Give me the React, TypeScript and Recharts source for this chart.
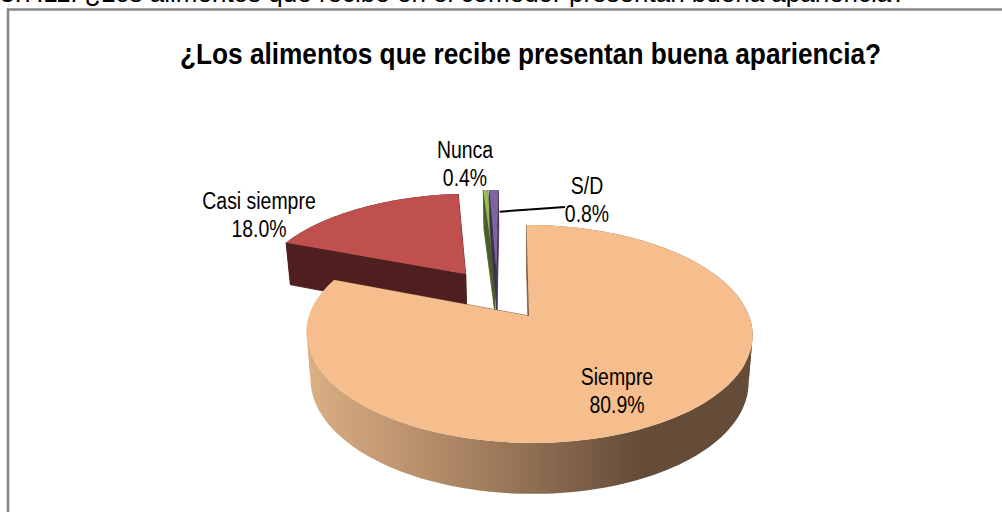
import { Pie, PieChart } from "recharts";

const TITLE = "¿Los alimentos que recibe presentan buena apariencia?";
const CAPTION = "3.7.11. ¿Los alimentos que recibe en el comedor presentan buena apariencia?";

// drawn back to front, so the big slice comes last
const categories = ["Casi siempre", "Nunca", "S/D", "Siempre"];
const percents = [18.0, 0.4, 0.8, 80.9];

const faceColors = ["#C0504D", "#9BBB59", "#8064A2", "#F6BE8C"];
const sideColors = ["#4F1F1F", "#4A5E2A", "#3F3151", "url(#siempreSide)"];
const cutColors = ["#4F1F1F", "#4A5E2A", "#3F3151", "#7A5C42"];

const data = categories.map((name, i) => ({ name, value: percents[i] }));

// label centre relative to the pie centre
const labelOffsets: Record<string, [number, number]> = {
  "Casi siempre": [-270, -102],
  Nunca: [-64, -153],
  "S/D": [58, -117],
  Siempre: [88, 74],
};

const SQUEEZE = 0.81;
const FLATTEN = 0.482;
const PERSPECTIVE = 0.165;
const SHEAR = 3;
const EXPLODE = 0.26;
const CENTER_U = -0.147;
const CENTER_V = 0.215;

// unit-circle plane -> screen, tilted away from the viewer
function project(cx: number, cy: number, r: number, u: number, v: number, drop = 0) {
  const w = 1 + PERSPECTIVE * v;
  const shrink = drop ? 0.982 : 1;
  return {
    x: cx + (shrink * r * u - SHEAR * v) / w,
    y: cy - (r * FLATTEN * v) / w + (drop ? 46 - 5 * v : 0),
  };
}

const rad = (deg: number) => (deg * Math.PI) / 180;
const pts = (list: { x: number; y: number }[]) => list.map((p) => `${p.x},${p.y}`).join(" ");

function SliceShape(props: any) {
  const { cx, cy, outerRadius: r, startAngle, endAngle, midAngle, index } = props;
  const apexU = CENTER_U + EXPLODE * Math.cos(rad(midAngle));
  const apexV = CENTER_V + EXPLODE * Math.sin(rad(midAngle));
  const steps = Math.max(4, Math.ceil(Math.abs(endAngle - startAngle) / 1.5));
  const arc: [number, number][] = [];
  for (let s = 0; s <= steps; s++) {
    const a = rad(startAngle + ((endAngle - startAngle) * s) / steps);
    arc.push([apexU + Math.cos(a), apexV + Math.sin(a)]);
  }
  const topArc = arc.map(([u, v]) => project(cx, cy, r, u, v));
  const bottomArc = arc.map(([u, v]) => project(cx, cy, r, u, v, 1));
  const apexTop = project(cx, cy, r, apexU, apexV);
  const apexBottom = project(cx, cy, r, apexU, apexV, 1);
  const last = arc.length - 1;
  const cut = cutColors[index];

  // split the rim where it turns round at the left and right ends,
  // one polygon across both would cancel out where it overlaps itself
  const xs = topArc.map((p) => p.x);
  const turns = [xs.indexOf(Math.max(...xs)), xs.indexOf(Math.min(...xs))].sort((a, b) => a - b);
  const breaks = [0, ...turns, last];
  const bands = breaks.slice(1).map((end, i) => {
    const start = breaks[i];
    return [...topArc.slice(start, end + 1), ...bottomArc.slice(start, end + 1).reverse()];
  });

  return (
    <g>
      <defs>
        <linearGradient id="siempreSide" gradientUnits="userSpaceOnUse" x1="311" y1="0" x2="640" y2="0">
          <stop offset="0" stopColor="#DBAE83" />
          <stop offset="0.5" stopColor="#A5805F" />
          <stop offset="1" stopColor="#654C39" />
        </linearGradient>
      </defs>
      <polygon points={pts([apexTop, topArc[0], bottomArc[0], apexBottom])} fill={cut} stroke={cut} strokeWidth={0.8} />
      <polygon points={pts([apexTop, topArc[last], bottomArc[last], apexBottom])} fill={cut} stroke={cut} strokeWidth={0.8} />
      {bands.map((band, i) => (
        <polygon key={i} points={pts(band)} fill={sideColors[index]} />
      ))}
      <polygon points={pts([apexTop, ...topArc])} fill={faceColors[index]} />
    </g>
  );
}

function SliceLabel(props: any) {
  const { cx, cy, name, value, outerRadius: r, midAngle } = props;
  const [dx, dy] = labelOffsets[name];
  const x = cx + dx;
  const y = cy + dy;
  let leader = null;
  if (name === "S/D") {
    const u = CENTER_U + EXPLODE * Math.cos(rad(midAngle)) + 0.01;
    const v = CENTER_V + EXPLODE * Math.sin(rad(midAngle)) + 0.7;
    const from = project(cx, cy, r, u, v);
    leader = <line x1={from.x} y1={from.y} x2={x - 22} y2={y + 8} stroke="#000" strokeWidth={2} />;
  }
  const font = { fontFamily: "Liberation Sans", fontSize: 24, fill: "#000", textAnchor: "middle" as const };
  return (
    <g>
      {leader}
      <text transform={`translate(${x},${y - 5}) scale(${SQUEEZE},1)`} {...font}>
        {name}
      </text>
      <text transform={`translate(${x},${y + 23}) scale(${SQUEEZE},1)`} {...font}>
        {value.toFixed(1)}%
      </text>
    </g>
  );
}

export default function App() {
  return (
    <div style={{ position: "absolute", left: 0, top: 0, width: 1002, height: 512, overflow: "hidden", background: "#fff" }}>
      <PieChart width={1002} height={512} margin={{ top: 0, right: 0, bottom: 0, left: 0 }}>
        <text transform="translate(0,2) scale(1,1)" fontFamily="Liberation Sans" fontSize={26} fill="#000">
          {CAPTION}
        </text>
        <path d="M1002 9.5H8V512" fill="none" stroke="#868686" strokeWidth={2.5} />
        <text
          transform="translate(530.5,64) scale(0.905,1)"
          fontFamily="Liberation Sans"
          fontWeight="bold"
          fontSize={29}
          fill="#000"
          textAnchor="middle"
        >
          {TITLE}
        </text>
        <Pie
          data={data}
          dataKey="value"
          nameKey="name"
          cx={529}
          cy={316}
          innerRadius={0}
          outerRadius={220}
          startAngle={159.05}
          endAngle={-200.95}
          stroke="none"
          shape={SliceShape}
          label={SliceLabel}
          labelLine={false}
          isAnimationActive={false}
        />
      </PieChart>
    </div>
  );
}
